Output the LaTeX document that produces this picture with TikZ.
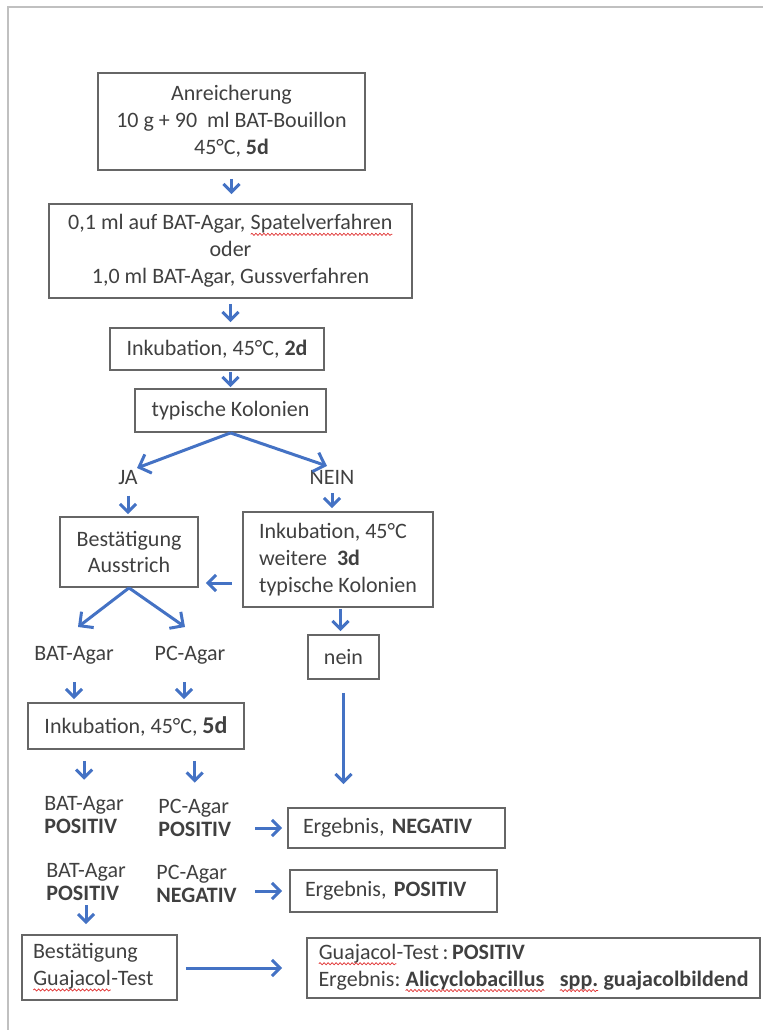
\documentclass[tikz,border=0pt]{standalone}
\usepackage{fontspec}
\setmainfont{Carlito}
\usetikzlibrary{arrows.meta, decorations.pathmorphing}

\definecolor{flowblue}{HTML}{4472C4}
\definecolor{txtgray}{HTML}{404040}
\definecolor{boxgray}{HTML}{666666}
\definecolor{framegray}{HTML}{C0C0C0}
\definecolor{wavered}{HTML}{E03030}

% red spell-check wave under a word
\newcommand{\spellwave}[1]{\tikz[baseline=(w.base)]{\node[inner sep=0pt, outer sep=0pt, draw=none,
      minimum width=0pt, minimum height=0pt, text width=, align=none, anchor=center] (w) {#1};
    \draw[wavered, line width=0.35pt, decorate, decoration={snake, amplitude=0.55pt, segment length=2pt}]
      ([yshift=-2.2pt]w.base west) -- ([yshift=-2.2pt]w.base east);}}

\begin{document}
\begin{tikzpicture}[x=0.5pt, y=-0.5pt,
    every node/.style={font=\fontsize{11}{13.4}\selectfont\frenchspacing, text=txtgray},
    box/.style={draw=boxgray, line width=0.9pt, inner sep=0pt, align=center},
    lbox/.style={draw=boxgray, line width=0.9pt, inner ysep=0pt, align=left},
    lbl/.style={inner sep=1pt, align=left, font=\fontsize{11}{11.8}\selectfont},
    flow/.style={draw=flowblue, line width=1.5pt, -{Straight Barb[length=4pt, width=8pt]}}]
    \useasboundingbox (0,0) rectangle (763,1036);

    % page frame
    \draw[framegray, line width=1pt] (763,7) -- (8,7) -- (8,1030);

    % main column
    \node[box, minimum width=133.5pt, minimum height=48.5pt] (anr) at (231.5,121.5)
        {Anreicherung\\10 g + 90\ \ ml BAT-Bouillon\\45°C, \textbf{5d}};
    \node[box, minimum width=181.5pt, minimum height=47pt] (platt) at (230.5,251)
        {0,1 ml auf BAT-Agar, \spellwave{Spatelverfahren}\\oder\\1,0 ml BAT-Agar, Gussverfahren};
    \node[box, minimum width=107pt, minimum height=21pt] (ink2) at (217,349)
        {Inkubation, 45°C, \textbf{2d}};
    \node[box, minimum width=95.5pt, minimum height=21.5pt] (typ) at (230.5,410.5)
        {typische Kolonien};

    \draw[flow, shorten <=4pt, shorten >=4.5pt] (anr.south) -- (anr.south |- platt.north);
    \draw[flow, shorten <=2.5pt, shorten >=2.5pt] (platt.south) -- (platt.south |- ink2.north);
    \draw[flow, shorten <=0.5pt, shorten >=0.5pt] (typ.north |- ink2.south) -- (typ.north);

    % JA / NEIN branches
    \node[lbl] (ja) at (128,478) {JA};
    \node[lbl] (neinl) at (332,477) {NEIN};
    \coordinate (jaTip) at (137,468);
    \coordinate (neinTip) at (327,466);
    \draw[flow, -{Straight Barb[length=5pt, width=10pt]}] (typ.south) -- (jaTip);
    \draw[flow, -{Straight Barb[length=5pt, width=10pt]}] (typ.south) -- (neinTip);

    \node[box, minimum width=69pt, minimum height=35pt] (bestA) at (129,552)
        {Bestätigung\\Ausstrich};
    \node[lbox, inner xsep=0pt, minimum width=95pt, minimum height=47.5pt] (ink3) at (338,559.5)
        {Inkubation, 45°C\\weitere\ \ \textbf{3d}\\typische Kolonien};

    \draw[flow, shorten <=4pt, shorten >=1pt] (ja.south) -- (ja.south |- bestA.north);
    \draw[flow, shorten <=3.5pt, shorten >=1.5pt] (neinl.south) -- (neinl.south |- ink3.north);
    \draw[flow, shorten <=5pt, shorten >=3.5pt] ([yshift=-11.75pt]ink3.west) -- ([yshift=-11.75pt]ink3.west -| bestA.east);

    % confirmation on two agars
    \node[lbl] (batA) at (74,655) {BAT-Agar};
    \node[lbl] (pcA) at (190,655) {PC-Agar};
    \coordinate (batTip) at (78,627);
    \coordinate (pcTip) at (185,627);
    \draw[flow, -{Straight Barb[length=5pt, width=10pt]}] (bestA.south) -- (batTip);
    \draw[flow, -{Straight Barb[length=5pt, width=10pt]}] (bestA.south) -- (pcTip);

    \node[box, minimum width=108pt, minimum height=23pt] (ink5) at (136,726)
        {Inkubation, 45°C, \textbf{\fontsize{12}{14}\selectfont 5d}};
    \draw[flow, shorten <=8pt, shorten >=1.5pt] (batA.south) -- (batA.south |- ink5.north);
    \draw[flow, shorten <=8pt, shorten >=1.5pt] ([xshift=-3pt]pcA.south) -- ([xshift=-3pt]pcA.south |- ink5.north);

    % right column
    \node[box, minimum width=35.5pt, minimum height=22pt] (nein) at (343.5,657) {nein};
    \draw[flow, shorten <=0.5pt, shorten >=1.5pt] ([xshift=-1.5pt]nein.north |- ink3.south) -- ([xshift=-1.5pt]nein.north);

    % results
    \node[lbl, anchor=west] (bat1) at (42,815) {BAT-Agar\\\textbf{POSITIV}};
    \node[lbl, anchor=west] (pc1) at (156,818) {PC-Agar\\\textbf{POSITIV}};
    \node[lbox, text width=93.5pt, inner xsep=7.5pt, minimum height=20pt] (erg1) at (396.5,828)
        {Ergebnis, \textbf{NEGATIV}};
    \draw[flow, shorten <=5.5pt, shorten >=7pt] (bat1.north |- ink5.south) -- (bat1.north);
    \draw[flow, shorten <=5.5pt, shorten >=7pt] (pc1.north |- ink5.south) -- (pc1.north);
    \draw[flow, shorten <=6.5pt, shorten >=11.5pt] (nein.south) -- (nein.south |- erg1.north);
    \draw[flow, shorten <=11pt, shorten >=2.5pt] (pc1.east |- erg1.west) -- (erg1.west);

    \node[lbl, anchor=west] (bat2) at (44,882) {BAT-Agar\\\textbf{POSITIV}};
    \node[lbl, anchor=west] (pc2) at (154,884) {PC-Agar\\\textbf{NEGATIV}};
    \node[lbox, text width=88.5pt, inner xsep=7.5pt, minimum height=21pt] (erg2) at (393.5,891)
        {Ergebnis, \textbf{POSITIV}};
    \draw[flow, shorten <=8pt, shorten >=3.5pt] (pc2.east |- erg2.west) -- (erg2.west);

    % Guajacol test
    \node[lbox, text width=66.5pt, inner xsep=5.5pt, minimum height=32.5pt] (bestG) at (99.5,967.5)
        {Bestätigung\\\spellwave{Guajacol}-Test};
    \node[lbox, inner xsep=0pt, minimum width=226.5pt, minimum height=30pt] (final) at (533.5,968)
        {\spellwave{Guajacol}-Test\,:\,\textbf{POSITIV}\\Ergebnis: \textbf{\spellwave{Alicyclobacillus}\ \ \ \spellwave{spp.} guajacolbildend}};
    \draw[flow, shorten <=1pt, shorten >=5pt] (bat2.south) -- (bat2.south |- bestG.north);
    \draw[flow, shorten <=4pt, shorten >=12pt] (bestG.east |- final.west) -- (final.west);
\end{tikzpicture}
\end{document}
